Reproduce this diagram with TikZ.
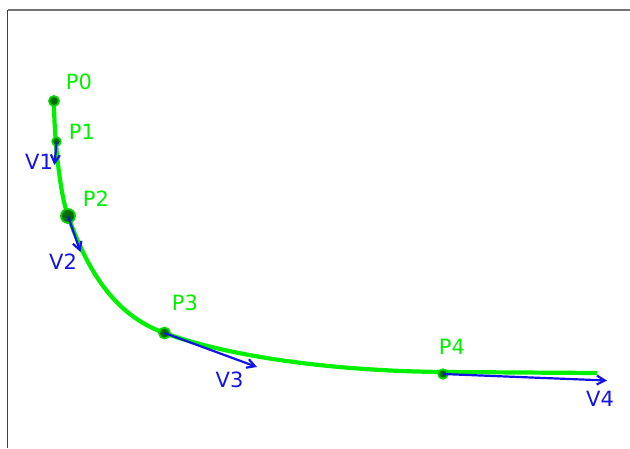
\documentclass[tikz,border=0pt]{standalone}
\usepackage{fontspec}
\setmainfont{DejaVu Sans}
\usetikzlibrary{arrows.meta}
\definecolor{lime}{RGB}{0,240,0}
\definecolor{dkgreen}{RGB}{0,110,0}
\definecolor{vblue}{RGB}{20,20,230}
\tikzset{
  pt/.style={circle, fill=dkgreen, draw=lime!80!dkgreen, line width=1.8pt, inner sep=0pt},
  plabel/.style={text=lime, inner sep=0pt, font=\fontsize{21}{24}\selectfont},
  vlabel/.style={text=vblue, inner sep=0pt, font=\fontsize{21}{24}\selectfont},
  vec/.style={draw=vblue, line width=2.2pt, -{Straight Barb[length=8pt,width=9pt,line width=2.2pt]}},
  curve/.style={draw=lime, line width=4.2pt, line join=round}
}
\begin{document}
\begin{tikzpicture}[x=1pt,y=-1pt]
\useasboundingbox (0,0) rectangle (630,448);
\fill[white] (0,0) rectangle (630,448);
% frame
\draw[black!75, line width=1.4pt] (7.5,10) -- (7.5,448);
\draw[black!55, line width=1.4pt] (7.5,10) -- (630,10);
% curve through the points
\coordinate (c0) at (54,101);
\coordinate (c2) at (68,216);
\coordinate (c3) at (164.5,333);
\coordinate (c4) at (443,372);
\coordinate (cend) at (597,373);
\draw[curve] (c0) .. controls (54,135) and (59.5,192.5) .. (c2)
  .. controls (86.7,267.7) and (112.3,314.3) .. (c3)
  .. controls (229.8,356.8) and (333,371) .. (c4) -- (cend);
% points
\node[pt, minimum size=10pt] (p0) at (54,101) {};
\node[pt, minimum size=8.5pt] (p1) at (56.5,141.5) {};
\node[pt, minimum size=14pt] (p2) at (68,216) {};
\node[pt, minimum size=11pt] (p3) at (164.5,333) {};
\node[pt, minimum size=9.5pt] (p4) at (443,374) {};
% vectors
\coordinate (v1e) at (54.5,165);
\coordinate (v2e) at (80.5,252);
\coordinate (v3e) at (257,367);
\coordinate (v4e) at (607,380.5);
\draw[vec] (p1.center) -- (v1e);
\draw[vec] (p2.center) -- (v2e);
\draw[vec] (p3.center) -- (v3e);
\draw[vec] (p4.center) -- (v4e);
% labels
\node[plabel] (l0) at (79,81.5) {P0};
\node[plabel] (l1) at (82,132) {P1};
\node[plabel] (l2) at (96,199) {P2};
\node[plabel] (l3) at (185,302.5) {P3};
\node[plabel] (l4) at (452,346.5) {P4};
\node[vlabel] (w1) at (39,162) {V1};
\node[vlabel] (w2) at (63,262) {V2};
\node[vlabel] (w3) at (229.5,379.5) {V3};
\node[vlabel] (w4) at (600,398.5) {V4};
\end{tikzpicture}
\end{document}
